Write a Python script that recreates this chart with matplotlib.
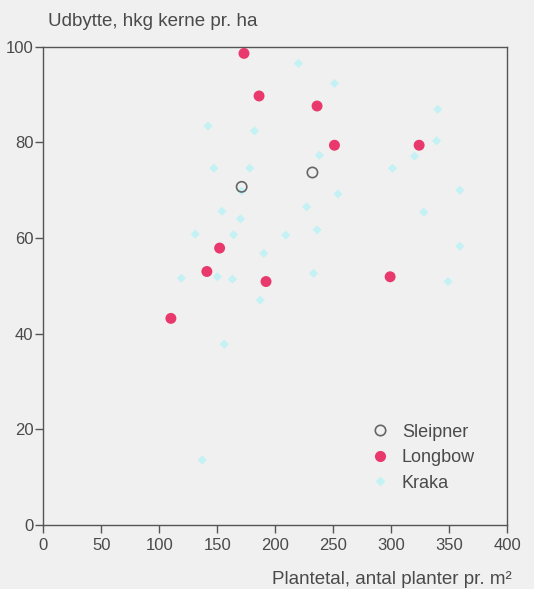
import matplotlib
matplotlib.use("Agg")
import matplotlib.pyplot as plt
from matplotlib.lines import Line2D

plt.rcParams['font.family'] = ['Liberation Sans', 'DejaVu Sans']

sleipner_x = [171, 232]
sleipner_y = [70.7, 73.7]

longbow_x = [173, 186, 236, 251, 324, 152, 141, 192, 110, 299]
longbow_y = [98.6, 89.7, 87.6, 79.4, 79.4, 57.9, 53.0, 50.9, 43.2, 51.9]

kraka_x = [220, 251, 142, 182, 238, 147, 178, 171, 254, 227, 154, 170, 131, 164,
           209, 236, 190, 119, 150, 163, 233, 187, 156, 137, 340, 339, 320, 301,
           359, 328, 359, 349]
kraka_y = [96.5, 92.3, 83.4, 82.4, 77.3, 74.6, 74.6, 69.8, 69.2, 66.5, 65.6, 64.0,
           60.8, 60.7, 60.6, 61.7, 56.8, 51.6, 51.9, 51.4, 52.6, 47.0, 37.8, 13.6,
           86.9, 80.3, 77.1, 74.6, 70.0, 65.4, 58.3, 50.9]

x_ticks = [0, 50, 100, 150, 200, 250, 300, 350, 400]
y_ticks = [0, 20, 40, 60, 80, 100]

bg = '#f0f0f0'
txt = '#4a4a4a'
pink = '#e8386c'
cyan = '#c4f2f4'

fig = plt.figure(figsize=(5.34, 5.89), dpi=100, facecolor=bg)
ax = fig.add_axes([43.3/534, 1-525/589, (507.3-43.3)/534, (525-46.7)/589])
ax.set_facecolor(bg)

ax.scatter(kraka_x, kraka_y, marker='D', s=22, color=cyan, edgecolors='none', zorder=2)
ax.scatter(longbow_x, longbow_y, marker='o', s=62, color=pink, edgecolors='none', zorder=3)
ax.scatter(sleipner_x, sleipner_y, marker='o', s=55, facecolors='none',
           edgecolors='#666666', linewidths=1.2, zorder=3)

ax.set_xlim(0, 400)
ax.set_ylim(0, 100)
ax.set_xticks(x_ticks)
ax.set_yticks(y_ticks)
for sp in ax.spines.values():
    sp.set_color('#555555')
    sp.set_linewidth(1.0)
ax.tick_params(axis='both', colors='#555555', labelcolor=txt, labelsize=12,
               length=6, width=1.0, direction='out')
ax.tick_params(axis='x', pad=3)
ax.tick_params(axis='y', pad=1)

fig.text(48/534, 1-21/589, 'Udbytte, hkg kerne pr. ha', color=txt, fontsize=13.5,
         ha='left', va='center')
fig.text(512/534, 1-580/589, 'Plantetal, antal planter pr. m²', color=txt, fontsize=13.5,
         ha='right', va='center')

handles = [
    Line2D([], [], marker='o', linestyle='none', markersize=7.5, markerfacecolor='none',
           markeredgecolor='#666666', markeredgewidth=1.2),
    Line2D([], [], marker='o', linestyle='none', markersize=8, markerfacecolor=pink,
           markeredgecolor='none'),
    Line2D([], [], marker='D', linestyle='none', markersize=5, markerfacecolor=cyan,
           markeredgecolor='none'),
]
leg = ax.legend(handles, ['Sleipner', 'Longbow', 'Kraka'], loc='center left',
                bbox_to_anchor=(0.706, 0.141), frameon=False, fontsize=13,
                handletextpad=0.72, labelspacing=0.47, handlelength=1.0,
                borderpad=0, borderaxespad=0)
for t in leg.get_texts():
    t.set_color(txt)

fig.savefig('out.png', dpi=100, facecolor=bg)
